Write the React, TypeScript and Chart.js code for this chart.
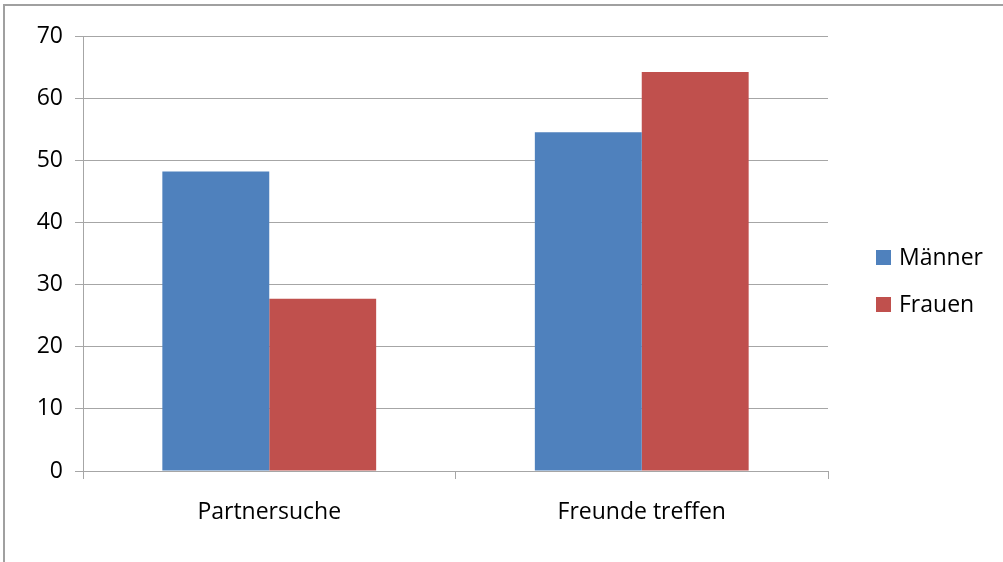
import React, { useEffect, useRef } from "react";
import { Chart, registerables } from "chart.js";
Chart.register(...registerables);

const categories = ["Partnersuche", "Freunde treffen"];
const seriesNames = ["Männer", "Frauen"];
const maenner = [48.2, 54.5];
const frauen = [27.7, 64.2];
const yMin = 0;
const yMax = 70;
const yStep = 10;
const seriesColors = ["#4F81BD", "#C0504D"];

const FONT = "'Open Sans', 'Noto Sans', sans-serif";
const FONT_SIZE = 23;

const legendPlugin = {
  id: "customLegend",
  afterDraw(chart: any) {
    const ctx = chart.ctx;
    ctx.save();
    const rows = [258, 305];
    chart.data.datasets.forEach((ds: any, i: number) => {
      const cy = rows[i];
      ctx.fillStyle = ds.backgroundColor;
      ctx.fillRect(876, cy - 8, 15, 15);
      ctx.fillStyle = "#000";
      ctx.font = `${FONT_SIZE}px ${FONT}`;
      ctx.textBaseline = "middle";
      ctx.textAlign = "left";
      ctx.fillText(ds.label, 899, cy);
    });
    ctx.restore();
  },
};

export default function App() {
  const ref = useRef<HTMLCanvasElement | null>(null);
  useEffect(() => {
    if (!ref.current) return;
    const gridColor = "#a6a6a6";
    const chart = new Chart(ref.current, {
      type: "bar",
      data: {
        labels: categories,
        datasets: [
          { label: seriesNames[0], data: maenner, backgroundColor: seriesColors[0], barPercentage: 1, categoryPercentage: 0.574 },
          { label: seriesNames[1], data: frauen, backgroundColor: seriesColors[1], barPercentage: 1, categoryPercentage: 0.574 },
        ],
      },
      options: {
        animation: false,
        responsive: false,
        maintainAspectRatio: false,
        layout: { padding: { top: 36, right: 175, left: 0, bottom: 0 } },
        plugins: { legend: { display: false }, tooltip: { enabled: false }, title: { display: false } },
        scales: {
          x: {
            type: "category",
            offset: true,
            grid: { offset: true, drawOnChartArea: false, drawTicks: true, tickLength: 8, color: gridColor, lineWidth: 1 },
            border: { display: true, color: gridColor },
            ticks: { color: "#000", font: { family: FONT, size: FONT_SIZE }, padding: 20 },
            afterFit: (s: any) => { s.height = 91; },
          },
          y: {
            min: yMin,
            max: yMax,
            ticks: { stepSize: yStep, color: "#000", font: { family: FONT, size: FONT_SIZE }, padding: 12 },
            grid: { color: gridColor, tickLength: 8, lineWidth: 1 },
            border: { display: true, color: gridColor },
            afterFit: (s: any) => { s.width = 83; },
          },
        },
      },
      plugins: [legendPlugin],
    });
    return () => chart.destroy();
  }, []);
  return (
    <div style={{ position: "fixed", left: 0, top: 0, width: 1003, height: 562, background: "#fff", overflow: "hidden" }}>
      <div style={{ position: "absolute", left: 3, top: 4, width: 1100, height: 700, border: "2px solid #a0a0a0", boxSizing: "border-box" }} />
      <canvas ref={ref} width={1003} height={562} style={{ position: "absolute", left: 0, top: 0, width: 1003, height: 562 }} />
    </div>
  );
}
